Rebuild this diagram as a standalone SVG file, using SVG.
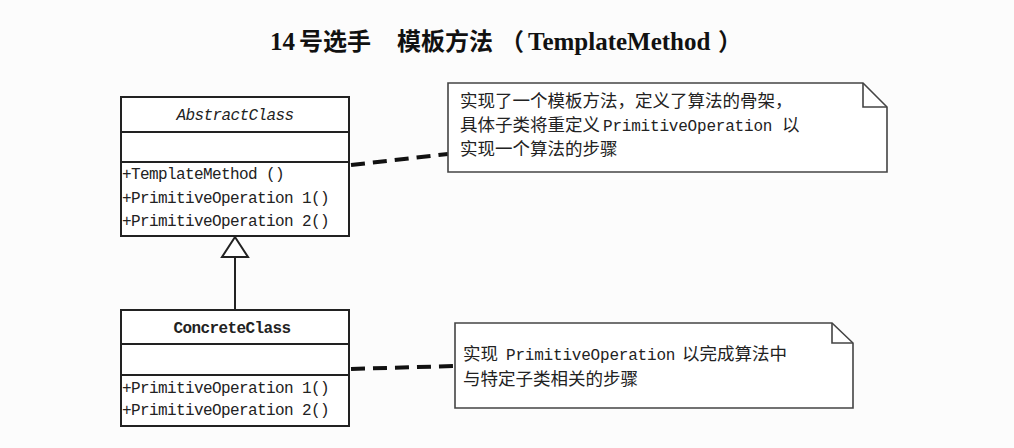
<svg xmlns="http://www.w3.org/2000/svg" width="1014" height="448" viewBox="0 0 1014 448">
<style>
.box{fill:#fff;stroke:#222;stroke-width:2}
.div{stroke:#222;stroke-width:2}
.note{fill:#fff;stroke:#444;stroke-width:1.6}
.fold{fill:none;stroke:#444;stroke-width:1.6}
.mono{font-family:"Liberation Mono","DejaVu Sans Mono",monospace;font-size:16px;fill:#222;letter-spacing:-0.6px}
.nm{font-family:"Liberation Mono","DejaVu Sans Mono",monospace;font-size:16px;fill:#222;letter-spacing:-0.2px}
.cn{font-family:"Noto Sans CJK SC",sans-serif;font-size:17.5px;fill:#222}
.dash{stroke:#111;stroke-width:4;stroke-dasharray:14 8;fill:none}
.title-l{font-family:"Liberation Serif",serif;font-weight:bold;font-size:25px;fill:#111}
.title-c{font-family:"Noto Sans CJK SC",sans-serif;font-weight:bold;font-size:24px;fill:#111}
</style>
<rect width="1014" height="448" fill="#fcfcfc"/>
<g id="title">
<text y="50"><tspan class="title-l" x="270">14</tspan><tspan class="title-c" x="299">号选手</tspan><tspan class="title-c" x="397">模板方法</tspan><tspan class="title-c" x="500">（</tspan><tspan class="title-l" x="528">TemplateMethod</tspan><tspan class="title-c" x="718">）</tspan></text>
</g>
<g id="connectors">
<polyline points="235,257 235,310" fill="none" stroke="#222" stroke-width="2"/>
<polygon points="235,237 222,257 248,257" fill="#fff" stroke="#222" stroke-width="2"/>
<line class="dash" x1="351" y1="165" x2="448" y2="154"/>
<line class="dash" x1="351" y1="369" x2="455" y2="366"/>
</g>
<g id="AbstractClass">
<rect class="box" x="121" y="97" width="228" height="139"/>
<line class="div" x1="121" y1="132" x2="349" y2="132"/>
<line class="div" x1="121" y1="162" x2="349" y2="162"/>
<text class="mono" x="235" y="120" text-anchor="middle" font-style="italic">AbstractClass</text>
<text class="mono" x="122" y="179">+TemplateMethod ()</text>
<text class="mono" x="122" y="203">+PrimitiveOperation 1()</text>
<text class="mono" x="122" y="226">+PrimitiveOperation 2()</text>
</g>
<g id="ConcreteClass">
<rect class="box" x="121" y="310" width="228" height="116"/>
<line class="div" x1="121" y1="344" x2="349" y2="344"/>
<line class="div" x1="121" y1="375" x2="349" y2="375"/>
<text class="mono" x="232" y="333" text-anchor="middle" font-weight="bold">ConcreteClass</text>
<text class="mono" x="122" y="393">+PrimitiveOperation 1()</text>
<text class="mono" x="122" y="415">+PrimitiveOperation 2()</text>
</g>
<g id="note1">
<path class="note" d="M448,83 H863 L887,107 V172 H448 Z"/>
<path class="fold" d="M863,83 V107 H887"/>
<text class="cn" x="460" y="107">实现了一个模板方法，定义了算法的骨架，</text>
<text x="460" y="131"><tspan class="cn">具体子类将重定义</tspan><tspan class="nm" x="603">PrimitiveOperation</tspan><tspan class="cn" x="782">以</tspan></text>
<text class="cn" x="460" y="155">实现一个算法的步骤</text>
</g>
<g id="note2">
<path class="note" d="M455,323 H832 L853,343 V408 H455 Z"/>
<path class="fold" d="M832,323 V343 H853"/>
<text x="463" y="360"><tspan class="cn">实现</tspan><tspan class="nm" x="506">PrimitiveOperation</tspan><tspan class="cn" x="682">以完成算法中</tspan></text>
<text class="cn" x="463" y="385">与特定子类相关的步骤</text>
</g>
</svg>
